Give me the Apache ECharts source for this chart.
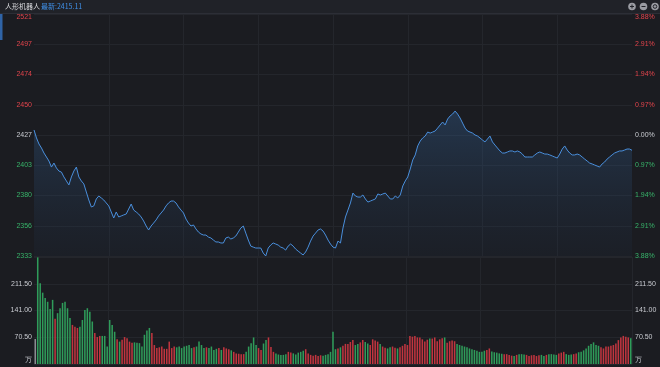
<!DOCTYPE html>
<html>
<head>
<meta charset="utf-8">
<script src="https://cdn.jsdelivr.net/npm/echarts@6/dist/echarts.min.js"></script>
<style>
html,body{margin:0;padding:0;background:#1b1c21;}
#c{width:660px;height:367px;}
</style>
</head>
<body>
<div id="c"></div>
<script>
const title = '人形机器人';
const latestLabel = '最新:2415.11';
const preClose = 2427;
const priceTickLabels = ['2333','2356','2380','2403','2427','2450','2474','2497','2521'];
const pctTickLabels = ['3.88%','2.91%','1.94%','0.97%','0.00%','0.97%','1.94%','2.91%','3.88%'];
const volTickLabels = ['万','70.50','141.00','211.50',''];

const prices = [
2430.9,2424.7,2420.0,2416.9,2413.0,2409.9,2406.8,2402.1,2405.2,2401.4,
2399.0,2398.2,2394.4,2391.3,2388.2,2394.4,2399.0,2402.1,2394.4,2391.3,
2389.0,2382.7,2376.5,2371.1,2371.9,2377.3,2379.6,2378.1,2376.5,2374.2,
2371.9,2367.2,2362.5,2367.2,2363.3,2364.1,2364.9,2365.6,2369.5,2373.4,
2368.7,2367.2,2365.6,2363.3,2360.2,2356.3,2353.2,2356.3,2358.6,2361.0,
2364.1,2366.4,2368.7,2371.9,2374.2,2375.7,2375.7,2374.2,2371.1,2368.7,
2366.4,2361.7,2358.6,2356.3,2357.1,2354.0,2351.6,2350.1,2349.3,2349.3,
2347.7,2347.0,2345.4,2343.9,2343.9,2343.1,2343.1,2347.0,2347.7,2346.2,
2347.0,2348.5,2351.6,2354.7,2356.3,2350.8,2345.4,2340.7,2339.9,2339.2,
2339.2,2339.2,2335.3,2333.0,2339.2,2341.5,2343.1,2342.3,2341.5,2339.9,
2339.2,2337.6,2340.7,2342.3,2340.7,2338.4,2336.8,2335.3,2333.8,2336.1,
2339.9,2344.6,2348.5,2350.8,2353.2,2354.0,2352.4,2349.3,2345.4,2342.3,
2339.9,2339.2,2344.6,2343.1,2354.7,2363.3,2368.7,2374.2,2381.9,2379.6,
2378.8,2378.8,2380.4,2377.3,2374.9,2375.7,2376.5,2377.3,2381.2,2380.4,
2381.2,2381.9,2379.6,2377.3,2377.3,2379.6,2378.1,2380.4,2387.4,2391.3,
2394.4,2400.6,2407.6,2411.5,2418.5,2422.3,2424.7,2426.2,2429.3,2428.5,
2429.3,2430.1,2432.4,2434.8,2437.1,2434.8,2439.4,2441.8,2443.3,2445.6,
2443.3,2440.2,2436.3,2432.4,2430.1,2429.3,2428.5,2427.0,2426.2,2424.7,
2423.1,2421.6,2423.9,2426.2,2421.6,2419.2,2416.9,2414.6,2413.0,2413.0,
2413.8,2414.6,2414.6,2413.8,2414.6,2413.8,2412.2,2409.9,2409.9,2409.9,
2409.9,2411.5,2413.0,2413.8,2413.0,2412.2,2412.2,2411.5,2410.7,2409.9,
2409.1,2412.2,2416.1,2418.5,2415.3,2413.0,2411.5,2411.5,2412.2,2411.5,
2409.9,2408.3,2406.8,2405.2,2404.5,2403.7,2402.9,2402.1,2404.5,2406.0,
2408.3,2409.9,2411.5,2413.0,2413.8,2414.6,2414.6,2415.3,2416.1,2416.1,
2415.11
];

const volumes = [
66,281,213,188,174,164,145,169,119,134,
147,161,164,147,121,103,98,95,98,116,
142,147,138,112,82,71,74,74,74,46,
116,103,85,65,59,64,71,68,59,56,
57,56,55,46,77,88,95,82,50,42,
44,46,40,40,59,42,46,44,46,42,
46,48,50,42,44,46,59,50,42,44,
42,46,37,40,42,37,44,41,39,36,
32,28,27,26,26,32,46,55,70,50,
42,37,54,63,70,45,32,28,25,24,
24,26,32,30,28,25,30,32,35,39,
28,24,22,24,21,23,22,24,26,32,
85,39,41,44,48,53,53,58,63,50,
53,57,63,58,54,50,65,62,59,53,
46,43,41,44,46,43,41,44,48,53,
50,74,72,74,70,70,65,59,64,67,
67,70,60,65,68,70,56,60,62,60,
53,50,48,46,44,41,39,37,35,32,
32,35,37,41,33,31,30,28,27,26,
26,24,22,21,24,26,26,25,24,21,
23,24,21,23,24,21,24,26,26,25,
24,28,30,32,26,24,25,26,28,31,
32,36,41,48,53,57,50,48,44,41,
46,46,48,50,54,63,70,74,72,70,
68
];

// minute categories 09:30-11:30, 13:01-15:00
const times = [];
function pad(n){return (n<10?'0':'')+n;}
for (let m = 9*60+30; m <= 11*60+30; m++) times.push(pad(Math.floor(m/60))+':'+pad(m%60));
for (let m = 13*60+1; m <= 15*60; m++) times.push(pad(Math.floor(m/60))+':'+pad(m%60));

const RED = '#e2444c', GREEN = '#37b46a', WHITE = '#c9cbd1';
const PMIN = 2333, PMAX = 2521, PINT = 23.5;
function pIdx(v){return Math.round((Number(v)-PMIN)/PINT);}
function pColor(v){const i=pIdx(v); return i>4?RED:(i<4?GREEN:WHITE);}

const chart = echarts.init(document.getElementById('c'), null, {renderer:'canvas'});
const gridLine = '#24262c';
const FONT = 'Liberation Sans, Arial, sans-serif';
chart.setOption({
  backgroundColor:'#1b1c21',
  animation:false,
  grid:[
    {left:34,right:28,top:14,height:242},
    {left:34,right:28,top:257,height:107}
  ],
  xAxis:[
    {type:'category',gridIndex:0,data:times,boundaryGap:false,
     axisLine:{show:false},axisTick:{show:false},axisLabel:{show:false},
     splitLine:{show:true,interval:function(i){return i%30===0&&i>0&&i<240;},lineStyle:{color:gridLine,width:1}}},
    {type:'category',gridIndex:1,data:times,boundaryGap:true,
     axisLine:{show:false},axisTick:{show:false},axisLabel:{show:false},
     splitLine:{show:true,interval:function(i){return i%30===0&&i>0&&i<240;},lineStyle:{color:gridLine,width:1}}}
  ],
  yAxis:[
    {type:'value',gridIndex:0,position:'left',min:PMIN,max:PMAX,interval:PINT,scale:true,
     axisLine:{show:false},axisTick:{show:false},
     splitLine:{show:true,lineStyle:{color:gridLine,width:1}},
     axisLabel:{margin:2,fontSize:7,fontFamily:FONT,verticalAlignMaxLabel:'top',
       formatter:function(v){return priceTickLabels[pIdx(v)]||'';},
       color:function(v){return pColor(v);}}},
    {type:'value',gridIndex:0,position:'right',min:PMIN,max:PMAX,interval:PINT,scale:true,
     axisLine:{show:false},axisTick:{show:false},splitLine:{show:false},
     axisLabel:{margin:3,fontSize:7,fontFamily:FONT,verticalAlignMaxLabel:'top',
       formatter:function(v){return pctTickLabels[pIdx(v)]||'';},
       color:function(v){return pColor(v);}}},
    {type:'value',gridIndex:1,position:'left',min:0,max:282,interval:70.5,
     axisLine:{show:false},axisTick:{show:false},
     splitLine:{show:true,lineStyle:{color:gridLine,width:1}},
     axisLabel:{margin:2,fontSize:7,color:WHITE,showMaxLabel:false,fontFamily:FONT,verticalAlignMinLabel:'bottom',
       formatter:function(v){return volTickLabels[Math.round(v/70.5)];}}},
    {type:'value',gridIndex:1,position:'right',min:0,max:282,interval:70.5,
     axisLine:{show:false},axisTick:{show:false},splitLine:{show:false},
     axisLabel:{margin:3,fontSize:7,color:WHITE,showMaxLabel:false,fontFamily:FONT,verticalAlignMinLabel:'bottom',
       formatter:function(v){return volTickLabels[Math.round(v/70.5)];}}}
  ],
  series:[
    {type:'line',xAxisIndex:0,yAxisIndex:0,data:prices,symbol:'none',smooth:false,
     lineStyle:{color:'#4a8fdc',width:1},
     areaStyle:{origin:'start',color:new echarts.graphic.LinearGradient(0,0,0,1,[
       {offset:0,color:'rgba(56,110,170,0.45)'},{offset:1,color:'rgba(30,45,65,0.25)'}])}},
    {type:'bar',xAxisIndex:1,yAxisIndex:2,data:volumes,barWidth:'62%',
     itemStyle:{color:function(p){
       const i=p.dataIndex;
       if(i===0) return '#8a8c92';
       return prices[i]>=prices[i-1]?'#c0353f':'#2f9c5a';}}}
  ],
  graphic:[
    {type:'rect',shape:{x:0,y:0,width:660,height:13},style:{fill:'#202228'},z:-1,zlevel:0},
    {type:'line',shape:{x1:0,y1:13.5,x2:660,y2:13.5},style:{stroke:'#2c2e36',lineWidth:1},z:-1},
    {type:'rect',shape:{x:0,y:14,width:2.5,height:26},style:{fill:'#2f63a6'},z:10},
    {type:'text',x:5,y:3,style:{text:title,fill:'#d8d9dd',font:'7px "Noto Sans CJK SC", sans-serif'},z:11},
    {type:'text',x:41,y:3,style:{text:latestLabel,fill:'#3f8fe6',font:'7px "Noto Sans CJK SC", sans-serif'},z:11},
    {type:'circle',shape:{cx:632,cy:6.5,r:3.8},style:{fill:'#9a9ca3'},z:11},
    {type:'circle',shape:{cx:643.5,cy:6.5,r:3.8},style:{fill:'#9a9ca3'},z:11},
    {type:'circle',shape:{cx:655,cy:6.5,r:3.8},style:{fill:'#9a9ca3'},z:11},
    {type:'line',shape:{x1:630,y1:6.5,x2:634,y2:6.5},style:{stroke:'#202228',lineWidth:1},z:12},
    {type:'line',shape:{x1:632,y1:4.5,x2:632,y2:8.5},style:{stroke:'#202228',lineWidth:1},z:12},
    {type:'line',shape:{x1:641.5,y1:6.5,x2:645.5,y2:6.5},style:{stroke:'#202228',lineWidth:1},z:12},
    {type:'circle',shape:{cx:655,cy:6.5,r:1.8},style:{fill:'none',stroke:'#202228',lineWidth:1},z:12}
  ]
});
</script>
</body>
</html>
